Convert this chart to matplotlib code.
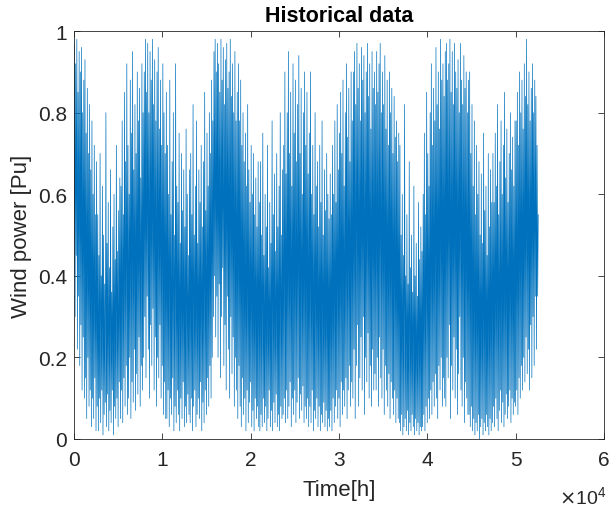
import numpy as np
import matplotlib
matplotlib.use("Agg")
import matplotlib.pyplot as plt

plt.rcParams['font.family'] = ['Liberation Sans', 'DejaVu Sans']

# hourly record length (6 years)
n_hours = 52560

# wind power [Pu], 40 readings per block of ~2.6e3 h
wind_pu = [
    # 0 - 2.6e3
    0.40, 0.97, 0.30, 0.92, 0.45, 0.98, 0.22, 0.85, 0.35, 0.95,
    0.18, 0.90, 0.28, 0.96, 0.12, 0.80, 0.25, 0.88, 0.10, 0.93,
    0.15, 0.75, 0.05, 0.86, 0.20, 0.70, 0.08, 0.82, 0.12, 0.66,
    0.03, 0.78, 0.10, 0.60, 0.05, 0.72, 0.15, 0.55, 0.02, 0.68,
    # 2.6e3 - 5.3e3
    0.08, 0.55, 0.02, 0.45, 0.10, 0.70, 0.04, 0.40, 0.12, 0.62,
    0.01, 0.50, 0.06, 0.38, 0.09, 0.80, 0.03, 0.48, 0.11, 0.58,
    0.02, 0.42, 0.07, 0.66, 0.04, 0.36, 0.12, 0.52, 0.01, 0.60,
    0.08, 0.44, 0.05, 0.72, 0.10, 0.46, 0.03, 0.56, 0.14, 0.64,
    # 5.3e3 - 7.9e3
    0.05, 0.62, 0.12, 0.78, 0.04, 0.55, 0.15, 0.85, 0.08, 0.68,
    0.18, 0.92, 0.06, 0.72, 0.10, 0.60, 0.20, 0.88, 0.05, 0.75,
    0.14, 0.95, 0.09, 0.66, 0.22, 0.82, 0.07, 0.70, 0.16, 0.90,
    0.11, 0.78, 0.25, 0.86, 0.08, 0.64, 0.18, 0.92, 0.12, 0.80,
    # 7.9e3 - 1.05e4
    0.20, 0.90, 0.30, 0.98, 0.15, 0.85, 0.35, 0.97, 0.22, 0.80,
    0.10, 0.95, 0.28, 0.88, 0.18, 0.98, 0.32, 0.82, 0.12, 0.93,
    0.25, 0.78, 0.08, 0.90, 0.20, 0.96, 0.15, 0.76, 0.28, 0.88,
    0.10, 0.72, 0.18, 0.92, 0.06, 0.80, 0.14, 0.70, 0.05, 0.85,
    # 1.05e4 - 1.31e4
    0.05, 0.72, 0.12, 0.60, 0.03, 0.88, 0.10, 0.55, 0.06, 0.68,
    0.15, 0.80, 0.02, 0.50, 0.08, 0.92, 0.04, 0.62, 0.12, 0.58,
    0.06, 0.75, 0.02, 0.48, 0.10, 0.70, 0.05, 0.56, 0.14, 0.66,
    0.03, 0.52, 0.08, 0.76, 0.04, 0.60, 0.11, 0.45, 0.06, 0.66,
    # 1.31e4 - 1.58e4
    0.04, 0.70, 0.10, 0.55, 0.02, 0.82, 0.08, 0.50, 0.12, 0.62,
    0.03, 0.78, 0.06, 0.48, 0.10, 0.66, 0.05, 0.58, 0.14, 0.72,
    0.02, 0.52, 0.09, 0.68, 0.04, 0.85, 0.12, 0.56, 0.06, 0.75,
    0.15, 0.62, 0.08, 0.80, 0.18, 0.70, 0.10, 0.88, 0.20, 0.78,
    # 1.58e4 - 1.84e4
    0.30, 0.95, 0.40, 0.98, 0.25, 0.90, 0.35, 0.97, 0.20, 0.92,
    0.38, 0.85, 0.15, 0.98, 0.30, 0.88, 0.42, 0.96, 0.18, 0.82,
    0.28, 0.93, 0.12, 0.97, 0.35, 0.86, 0.22, 0.90, 0.10, 0.98,
    0.30, 0.84, 0.16, 0.92, 0.25, 0.80, 0.08, 0.95, 0.20, 0.78,
    # 1.84e4 - 2.10e4
    0.12, 0.85, 0.05, 0.92, 0.18, 0.78, 0.08, 0.88, 0.03, 0.72,
    0.15, 0.80, 0.06, 0.68, 0.10, 0.75, 0.02, 0.62, 0.12, 0.82,
    0.04, 0.66, 0.09, 0.58, 0.14, 0.72, 0.03, 0.60, 0.07, 0.70,
    0.02, 0.55, 0.10, 0.64, 0.05, 0.52, 0.08, 0.68, 0.03, 0.58,
    # 2.10e4 - 2.37e4
    0.02, 0.68, 0.06, 0.50, 0.03, 0.75, 0.10, 0.45, 0.04, 0.60,
    0.08, 0.52, 0.02, 0.72, 0.05, 0.42, 0.12, 0.58, 0.03, 0.48,
    0.07, 0.78, 0.02, 0.55, 0.09, 0.65, 0.04, 0.46, 0.11, 0.70,
    0.03, 0.52, 0.06, 0.62, 0.02, 0.80, 0.08, 0.50, 0.05, 0.66,
    # 2.37e4 - 2.63e4
    0.06, 0.72, 0.10, 0.90, 0.04, 0.65, 0.12, 0.80, 0.05, 0.95,
    0.08, 0.70, 0.14, 0.85, 0.03, 0.62, 0.10, 0.92, 0.06, 0.75,
    0.12, 0.88, 0.04, 0.68, 0.09, 0.82, 0.15, 0.94, 0.05, 0.70,
    0.11, 0.86, 0.07, 0.60, 0.13, 0.80, 0.04, 0.90, 0.08, 0.72,
    # 2.63e4 - 2.89e4
    0.05, 0.85, 0.10, 0.65, 0.03, 0.75, 0.08, 0.90, 0.04, 0.60,
    0.12, 0.72, 0.02, 0.55, 0.07, 0.80, 0.05, 0.62, 0.10, 0.68,
    0.03, 0.52, 0.08, 0.72, 0.02, 0.58, 0.06, 0.78, 0.04, 0.50,
    0.09, 0.66, 0.03, 0.56, 0.07, 0.70, 0.02, 0.60, 0.05, 0.54,
    # 2.89e4 - 3.15e4
    0.03, 0.65, 0.07, 0.55, 0.02, 0.72, 0.10, 0.60, 0.04, 0.78,
    0.08, 0.58, 0.12, 0.82, 0.05, 0.66, 0.10, 0.75, 0.03, 0.85,
    0.14, 0.70, 0.06, 0.88, 0.12, 0.62, 0.08, 0.80, 0.15, 0.92,
    0.05, 0.74, 0.12, 0.86, 0.18, 0.68, 0.08, 0.90, 0.14, 0.78,
    # 3.15e4 - 3.42e4
    0.10, 0.90, 0.22, 0.95, 0.05, 0.82, 0.18, 0.97, 0.28, 0.86,
    0.08, 0.92, 0.15, 0.78, 0.25, 0.96, 0.12, 0.88, 0.30, 0.94,
    0.06, 0.80, 0.20, 0.90, 0.14, 0.97, 0.26, 0.84, 0.10, 0.92,
    0.18, 0.76, 0.08, 0.95, 0.22, 0.86, 0.12, 0.90, 0.16, 0.82,
    # 3.42e4 - 3.68e4
    0.12, 0.95, 0.20, 0.85, 0.08, 0.92, 0.25, 0.97, 0.15, 0.80,
    0.10, 0.90, 0.22, 0.82, 0.06, 0.94, 0.18, 0.76, 0.12, 0.88,
    0.08, 0.72, 0.16, 0.90, 0.05, 0.80, 0.14, 0.86, 0.10, 0.70,
    0.06, 0.84, 0.12, 0.74, 0.04, 0.78, 0.10, 0.68, 0.05, 0.75,
    # 3.68e4 - 3.94e4
    0.04, 0.72, 0.02, 0.50, 0.06, 0.60, 0.01, 0.45, 0.03, 0.82,
    0.05, 0.40, 0.02, 0.55, 0.07, 0.38, 0.01, 0.68, 0.04, 0.42,
    0.02, 0.50, 0.06, 0.36, 0.03, 0.62, 0.01, 0.40, 0.05, 0.48,
    0.02, 0.35, 0.04, 0.58, 0.01, 0.44, 0.03, 0.52, 0.02, 0.46,
    # 3.94e4 - 4.20e4
    0.03, 0.60, 0.06, 0.75, 0.02, 0.55, 0.08, 0.85, 0.04, 0.70,
    0.10, 0.62, 0.05, 0.80, 0.12, 0.92, 0.06, 0.72, 0.14, 0.86,
    0.08, 0.78, 0.16, 0.96, 0.10, 0.82, 0.05, 0.90, 0.18, 0.76,
    0.12, 0.98, 0.20, 0.88, 0.08, 0.92, 0.15, 0.84, 0.10, 0.95,
    # 4.20e4 - 4.47e4
    0.08, 0.97, 0.20, 0.88, 0.15, 0.92, 0.28, 0.98, 0.05, 0.85,
    0.18, 0.95, 0.12, 0.82, 0.25, 0.97, 0.10, 0.90, 0.22, 0.86,
    0.06, 0.93, 0.16, 0.80, 0.30, 0.97, 0.12, 0.88, 0.08, 0.82,
    0.20, 0.94, 0.04, 0.86, 0.14, 0.90, 0.10, 0.80, 0.06, 0.88,
    # 4.47e4 - 4.73e4
    0.06, 0.90, 0.03, 0.70, 0.08, 0.82, 0.02, 0.62, 0.05, 0.78,
    0.01, 0.55, 0.04, 0.72, 0.02, 0.60, 0.06, 0.68, 0.00, 0.50,
    0.03, 0.65, 0.05, 0.48, 0.01, 0.75, 0.04, 0.56, 0.02, 0.62,
    0.06, 0.45, 0.03, 0.70, 0.01, 0.52, 0.05, 0.66, 0.02, 0.58,
    # 4.73e4 - 4.99e4
    0.04, 0.70, 0.08, 0.58, 0.03, 0.75, 0.10, 0.62, 0.05, 0.82,
    0.02, 0.55, 0.07, 0.68, 0.12, 0.78, 0.04, 0.60, 0.09, 0.72,
    0.03, 0.85, 0.06, 0.64, 0.11, 0.76, 0.05, 0.58, 0.08, 0.70,
    0.12, 0.80, 0.04, 0.66, 0.10, 0.74, 0.06, 0.62, 0.09, 0.78,
    # 4.99e4 - 5.26e4
    0.08, 0.78, 0.12, 0.85, 0.06, 0.72, 0.15, 0.90, 0.10, 0.80,
    0.18, 0.88, 0.12, 0.76, 0.20, 0.92, 0.14, 0.84, 0.25, 0.98,
    0.16, 0.82, 0.22, 0.90, 0.12, 0.78, 0.28, 0.86, 0.15, 0.92,
    0.30, 0.80, 0.18, 0.88, 0.35, 0.84, 0.22, 0.72, 0.35, 0.55,
]

time_h = np.linspace(0, n_hours, len(wind_pu))

fig = plt.figure(figsize=(6.11, 5.10), dpi=100)
ax = fig.add_axes([0.1210, 0.1373, 0.8675, 0.7997])

ax.plot(time_h, wind_pu, color='#0072BD', linewidth=0.5)

ax.set_xlim(0, 60000)
ax.set_ylim(0, 1)
ax.set_xticks([0, 10000, 20000, 30000, 40000, 50000, 60000])
ax.set_xticklabels(['0', '1', '2', '3', '4', '5', '6'])
ax.set_yticks([0, 0.2, 0.4, 0.6, 0.8, 1])
ax.set_yticklabels(['0', '0.2', '0.4', '0.6', '0.8', '1'])

ax.tick_params(direction='in', length=4, width=0.6, colors='#262626',
               labelsize=15, top=True, right=True, labeltop=False, labelright=False)
ax.tick_params(axis='x', pad=8)
ax.tick_params(axis='y', pad=5)
for s in ax.spines.values():
    s.set_color('#262626')
    s.set_linewidth(0.6)

ax.set_xlabel('Time[h]', fontsize=16, color='#262626', labelpad=7)
ax.set_ylabel('Wind power [Pu]', fontsize=16, color='#262626', labelpad=4)
ax.set_title('Historical data', fontsize=15.5, fontweight='bold', pad=7)
fig.text(0.992, 0.026, r'$\times\mathregular{10^{4}}$',
         ha='right', va='center', fontsize=14, color='#262626')

fig.savefig('out.png', dpi=100)
